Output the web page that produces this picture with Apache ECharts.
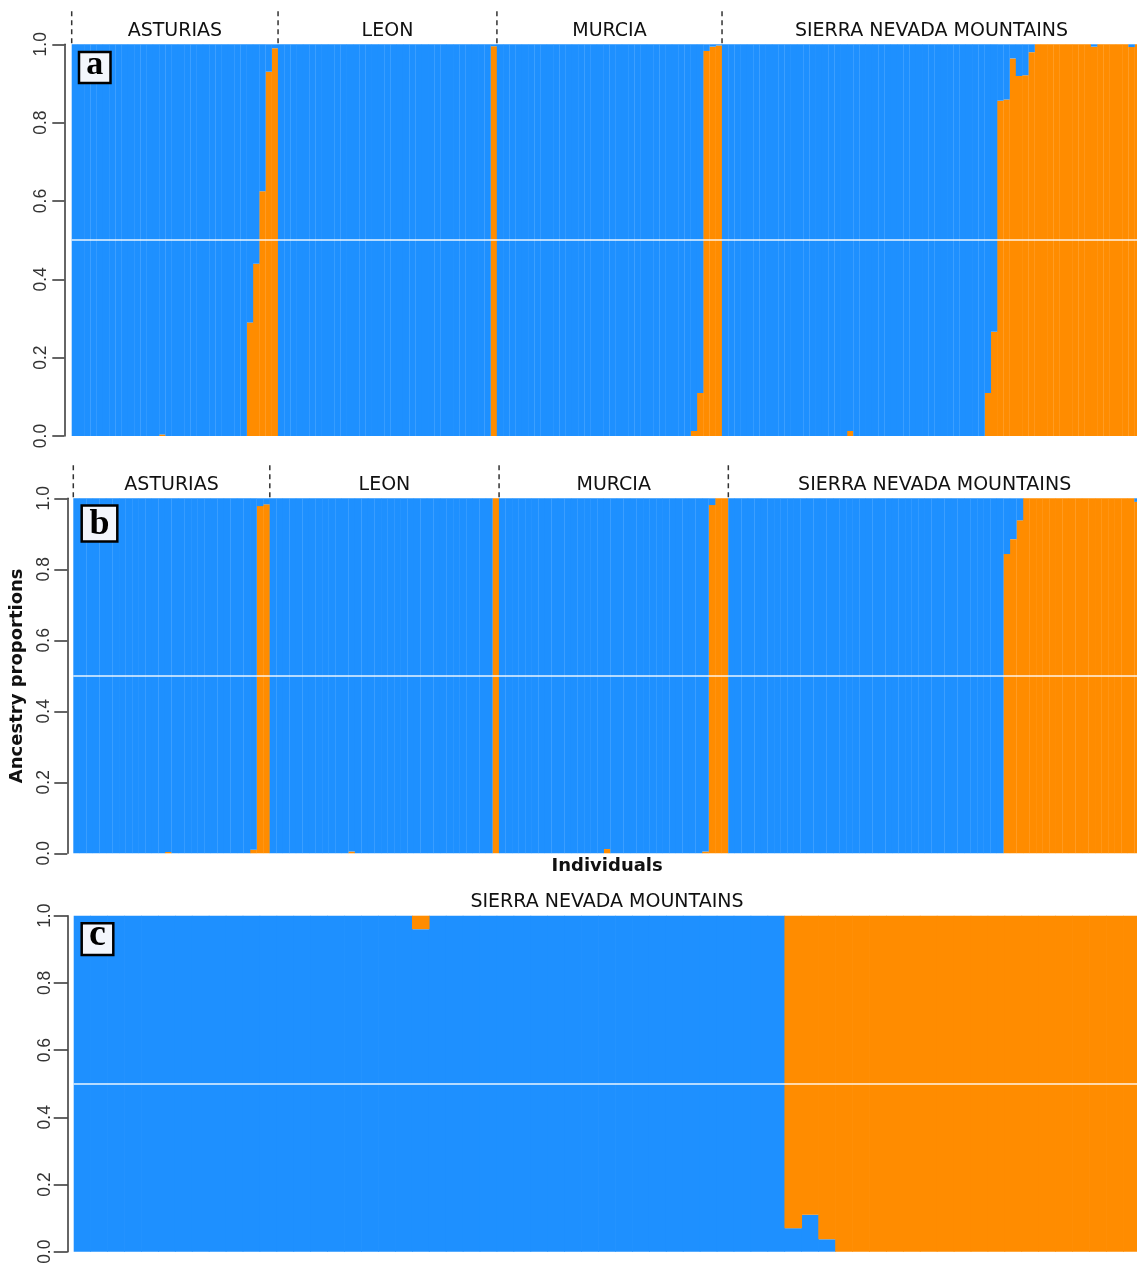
<!DOCTYPE html>
<html><head><meta charset="utf-8">
<script src="https://cdn.jsdelivr.net/npm/echarts@6/dist/echarts.min.js"></script>
<style>html,body{margin:0;padding:0;background:#fff}#c{width:1137px;height:1263px}</style>
</head><body><div id="c"></div>
<script>
const BLUE = '#1E90FF', ORANGE = '#FF8C00';
const groupNames = ['ASTURIAS', 'LEON', 'MURCIA', 'SIERRA NEVADA MOUNTAINS'];
const yTickLabels = ['0.0', '0.2', '0.4', '0.6', '0.8', '1.0'];

// Panel a: orange-cluster ancestry proportion per individual
const asturiasA = [0,0,0,0,0,0,0,0,0,0, 0,0,0,0,0.004,0,0,0,0,0, 0,0,0,0,0,0,0,0,0.29,0.44, 0.625,0.93,0.99];
const leonA = [0,0,0,0,0,0,0,0,0,0, 0,0,0,0,0,0,0,0,0,0, 0,0,0,0,0,0,0,0,0,0, 0,0,0,0,0.995];
const murciaA = [0,0,0,0,0,0,0,0,0,0, 0,0,0,0,0,0,0,0,0,0, 0,0,0,0,0,0,0,0,0,0, 0,0.013,0.11,0.983,0.994,0.997];
const sierraA = [0,0,0,0,0,0,0,0,0,0, 0,0,0,0,0,0,0,0,0,0, 0.013,0,0,0,0,0,0,0,0,0, 0,0,0,0,0,0,0,0,0,0,
                 0,0,0.11,0.266,0.856,0.859,0.964,0.919,0.921,0.98, 1,1,1,1,1,1,1,1,1,0.994, 1,1,1,1,1,0.993,1];
// Panel b
const asturiasB = [0,0,0,0,0,0,0,0,0,0, 0,0,0,0,0.004,0,0,0,0,0, 0,0,0,0,0,0,0,0.01,0.978,0.983];
const leonB = [0,0,0,0,0,0,0,0,0,0, 0,0,0.005,0,0,0,0,0,0,0, 0,0,0,0,0,0,0,0,0,0, 0,0,0,0,1];
const murciaB = [0,0,0,0,0,0,0,0,0,0, 0,0,0,0,0,0,0.012,0,0,0, 0,0,0,0,0,0,0,0,0,0, 0,0.005,0.981,1,1];
const sierraB = [0,0,0,0,0,0,0,0,0,0, 0,0,0,0,0,0,0,0,0,0, 0,0,0,0,0,0,0,0,0,0, 0,0,0,0,0,0,0,0,0,0,
                 0,0,0.843,0.885,0.938,1,1,1,1,1, 1,1,1,1,1,1,1,1,1,1, 1,1,0.99];
// Panel c (Sierra Nevada only)
const sierraC = [0,0,0,0,0,0,0,0,0,0, 0,0,0,0,0,0,0,0,0,0, 0.04,0,0,0,0,0,0,0,0,0, 0,0,0,0,0,0,0,0,0,0,
                 0,0,0.93,0.89,0.963,1,1,1,1,1, 1,1,1,1,1,1,1,1,1,1, 1,1,1];

const panels = [
  { letter: 'a', groups: [[groupNames[0], asturiasA], [groupNames[1], leonA], [groupNames[2], murciaA], [groupNames[3], sierraA]], orangeBottom: true, separators: true },
  { letter: 'b', groups: [[groupNames[0], asturiasB], [groupNames[1], leonB], [groupNames[2], murciaB], [groupNames[3], sierraB]], orangeBottom: true, separators: true },
  { letter: 'c', groups: [[groupNames[3], sierraC]], orangeBottom: false, separators: false }
];
const layout = [
  { left: 71.7, top: 44.3, width: 1069.3, height: 391.7, axisOffset: 7.4, tick: 12, box: [79, 52, 31.5, 31], font: 34, dy: -2.5 },
  { left: 73.3, top: 498.3, width: 1067.7, height: 355, axisOffset: 6, tick: 13, box: [81.7, 505.5, 35.6, 36], font: 36, dy: 1.5 },
  { left: 73.7, top: 915.7, width: 1066.6, height: 336, axisOffset: 6, tick: 14, box: [81.7, 923.3, 31.6, 31.7], font: 38, dy: -3.5 }
];

const chart = echarts.init(document.getElementById('c'), null, { renderer: 'canvas' });
const grid = [], xAxis = [], yAxis = [], series = [];

panels.forEach((p, i) => {
  const L = layout[i];
  const orange = [].concat(...p.groups.map(g => g[1]));
  const blue = orange.map(v => 1 - v);
  const cats = orange.map((_, k) => p.letter + (k + 1));
  grid.push({ left: L.left, top: L.top, width: L.width, height: L.height, outerBoundsMode: 'none', containLabel: false });
  xAxis.push({
    gridIndex: i, type: 'category', data: cats, boundaryGap: true,
    axisLine: { show: false }, axisTick: { show: false }, axisLabel: { show: false }, splitLine: { show: false },
    name: i === 1 ? 'Individuals' : '', nameLocation: 'middle', nameGap: 4,
    nameTextStyle: { fontFamily: 'DejaVu Sans', fontWeight: 'bold', fontSize: 18, color: '#111' }
  });
  yAxis.push({
    gridIndex: i, type: 'value', min: 0, max: 1, interval: 0.2, offset: L.axisOffset,
    axisLine: { show: true, lineStyle: { color: '#333', width: 1.5 } },
    axisTick: { show: true, length: L.tick, lineStyle: { color: '#333', width: 1.5 } },
    axisLabel: { rotate: 90, margin: 14, fontSize: 17.5, color: '#333', fontFamily: 'Liberation Sans',
      formatter: v => yTickLabels[Math.round(v * 5)] },
    splitLine: { show: false },
    name: i === 1 ? 'Ancestry proportions' : '', nameLocation: 'middle', nameRotate: 90, nameGap: 41,
    nameTextStyle: { fontFamily: 'DejaVu Sans', fontWeight: 'bold', fontSize: 18, color: '#111' }
  });
  const common = { type: 'bar', xAxisIndex: i, yAxisIndex: i, stack: 'p' + i, barWidth: '104%', barGap: '0%', silent: true };
  const sOrange = Object.assign({ name: 'orange' + i, data: orange, itemStyle: { color: ORANGE } }, common);
  const sBlue = Object.assign({ name: 'blue' + i, data: blue, itemStyle: { color: BLUE } }, common);
  const ordered = p.orangeBottom ? [sOrange, sBlue] : [sBlue, sOrange];
  ordered[1].markLine = { silent: true, symbol: ['none', 'none'], label: { show: false },
    lineStyle: { color: '#ffffff', width: 1.5, type: 'solid', opacity: 0.9 }, data: [{ yAxis: 0.5 }] };
  series.push(...ordered);
});

chart.setOption({ animation: false, backgroundColor: '#fff', grid, xAxis, yAxis, series });

// Decorations positioned through the axes' own scales
const graphic = [];
panels.forEach((p, i) => {
  const L = layout[i];
  const c0 = chart.convertToPixel({ xAxisIndex: i }, 0);
  const c1 = chart.convertToPixel({ xAxisIndex: i }, 1);
  const w = c1 - c0;
  const yTop = chart.convertToPixel({ yAxisIndex: i }, 1);
  let start = 0;
  p.groups.forEach(([name, vals]) => {
    const x0 = c0 - w / 2 + start * w;
    const x1 = x0 + vals.length * w;
    if (p.separators) {
      graphic.push({ type: 'line', silent: true, shape: { x1: x0, y1: yTop - 33, x2: x0, y2: yTop },
        style: { stroke: '#333', lineWidth: 1.5, lineDash: [5, 4] }, z: 10 });
    }
    graphic.push({ type: 'text', silent: true, x: (x0 + x1) / 2, y: yTop - 13.5,
      style: { text: name, font: '19px "DejaVu Sans"', fill: '#111', align: 'center', verticalAlign: 'middle' }, z: 10 });
    start += vals.length;
  });
  const [bx, by, bw, bh] = L.box;
  graphic.push({ type: 'rect', silent: true, shape: { x: bx, y: by, width: bw, height: bh },
    style: { fill: '#f3f6fc', stroke: '#000', lineWidth: 2.5 }, z: 20 });
  graphic.push({ type: 'text', silent: true, x: bx + bw / 2, y: by + bh / 2 + L.dy,
    style: { text: p.letter, font: 'bold ' + L.font + 'px "Liberation Serif"', fill: '#000', align: 'center', verticalAlign: 'middle' }, z: 21 });
});
chart.setOption({ graphic });
</script>
</body></html>
